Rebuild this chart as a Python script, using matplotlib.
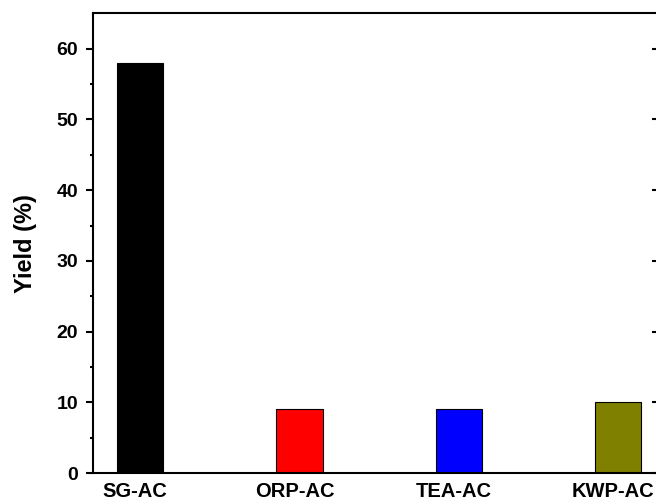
import matplotlib
matplotlib.use('Agg')
import matplotlib.pyplot as plt
import matplotlib.transforms as mtransforms
import numpy as np

plt.rcParams['font.family'] = ['Liberation Sans', 'DejaVu Sans']
plt.rcParams['font.weight'] = 'bold'

### Données
echantillons = ['SG-AC', 'ORP-AC', 'TEA-AC', 'KWP-AC']
rendement = [58, 9, 9, 10]  # Yield (%)
couleurs = ['#000000', '#FF0000', '#0000FF', '#808000']

fig = plt.figure(figsize=(6.56, 5.04), dpi=100)
# l'axe de droite sort un peu de la figure
ax = fig.add_axes([93.3/656, (504-473.1)/504, (658-93.3)/656, (473.1-13.3)/504])

x = np.arange(len(echantillons))
ax.bar(x, rendement, width=0.29, color=couleurs, edgecolor='black', linewidth=0.8, zorder=2)

ax.set_xlim(-0.294, 3.25)
ax.set_ylim(0, 65)
ax.set_xticks(x)
ax.set_xticklabels(echantillons, fontsize=14.5, fontweight='bold')
ax.set_yticks(np.arange(0, 61, 10))
ax.set_yticks(np.arange(5, 61, 10), minor=True)
ax.tick_params(axis='y', which='major', direction='out', length=5, width=1.5,
               labelsize=14, pad=6)
ax.tick_params(axis='y', which='minor', direction='out', length=2.5, width=1.5)
ax.tick_params(axis='x', length=0, pad=6.5)
for lab in ax.get_yticklabels():
    lab.set_fontweight('bold')

# petit décalage des étiquettes vers la gauche
decal = mtransforms.ScaledTranslation(-5/100, 0, fig.dpi_scale_trans)
for lab in ax.get_xticklabels():
    lab.set_transform(lab.get_transform() + decal)

# graduations de droite vers l'intérieur
ax2 = ax.secondary_yaxis('right')
ax2.set_yticks(np.arange(0, 61, 10))
ax2.tick_params(direction='in', length=4, width=1.5, labelright=False)

for s in ax.spines.values():
    s.set_linewidth(1.5)
ax2.spines['right'].set_linewidth(1.5)

ax.set_ylabel('Yield (%)', fontsize=17, fontweight='bold')
ax.yaxis.set_label_coords(-0.1, 0.5)

fig.savefig('out.png', dpi=100)
